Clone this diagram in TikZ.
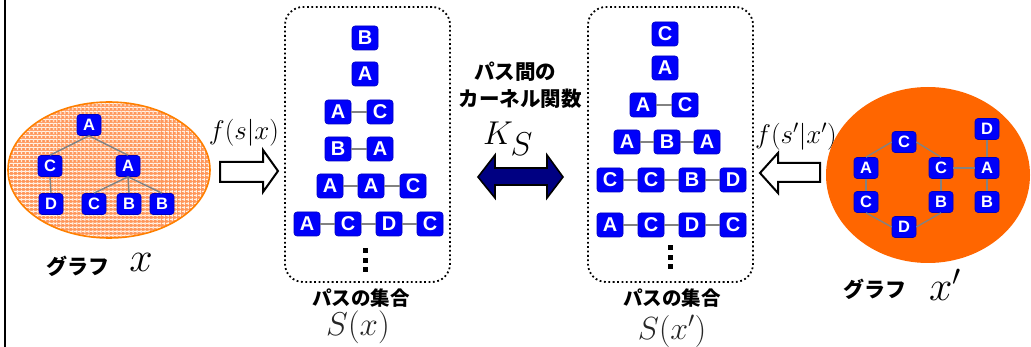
\RequirePackage{fix-cm}
\documentclass[tikz,border=0pt]{standalone}
\usepackage{fontspec}
\usetikzlibrary{patterns.meta}

\newfontfamily\jpfont{Noto Sans CJK JP}
\newfontfamily\boxfont{Liberation Sans}

\definecolor{pathblue}{RGB}{0,0,250}
\definecolor{edgegray}{RGB}{130,130,130}
\definecolor{graphorange}{RGB}{255,102,0}
\definecolor{paleorange}{RGB}{255,150,90}
\definecolor{kernelnavy}{RGB}{0,0,130}

\tikzset{
  pbox/.style={rectangle, rounded corners=3pt, fill=pathblue, draw=blue!75!black,
    line width=0.6pt, text=white, inner sep=0pt,
    minimum width=26pt, minimum height=24pt,
    font={\boxfont\bfseries\fontsize{20}{20}\selectfont}},
  gbox/.style={pbox, minimum width=24pt, minimum height=21pt,
    font={\boxfont\bfseries\fontsize{16.5}{16.5}\selectfont}},
  plink/.style={draw=edgegray, line width=2.5pt},
  glink/.style={draw=edgegray, line width=1.4pt},
  setbox/.style={draw, rounded corners=18pt, line width=1.8pt,
    dash pattern=on 1.8pt off 2.6pt},
  jplabel/.style={inner sep=0pt, font={\jpfont\bfseries\fontsize{#1}{#1}\selectfont}},
  mathsize/.style={inner sep=0pt, font={\fontsize{#1}{#1}\selectfont}},
  openarrow/.style={draw, fill=white, line width=2pt, line join=miter},
}

\begin{document}
\begin{tikzpicture}[x=1pt, y=-1pt]
\useasboundingbox (0,0) rectangle (1031,347);
\draw[line width=2pt] (5,0) -- (5,347);

% graph x: checked orange ellipse with a tree
\fill[paleorange] (109,170) ellipse [x radius=101pt, y radius=68pt];
\fill[pattern={Lines[angle=0, distance=4pt, line width=1.4pt]}, pattern color=white!90!orange]
  (109,170) ellipse [x radius=101pt, y radius=68pt];
\fill[pattern={Lines[angle=90, distance=4pt, line width=1.4pt]}, pattern color=white!90!orange]
  (109,170) ellipse [x radius=101pt, y radius=68pt];
\draw[orange, line width=1.6pt] (109,170) ellipse [x radius=101pt, y radius=68pt];

\node[gbox] (gA)  at (89,125)  {A};
\node[gbox] (gC)  at (50,166)  {C};
\node[gbox] (gA2) at (128,166) {A};
\node[gbox] (gD)  at (51,204)  {D};
\node[gbox] (gC2) at (94,204)  {C};
\node[gbox] (gB)  at (129,204) {B};
\node[gbox] (gB2) at (162,204) {B};
\draw[glink] (gA.south) -- (gC.north);
\draw[glink] (gA.south) -- (gA2.north);
\draw[glink] (gC.south) -- (gD.north);
\draw[glink] (gA2.south) -- (gC2.north);
\draw[glink] (gA2.south) -- (gB.north);
\draw[glink] (gA2.south) -- (gB2.north);

\node[jplabel=21] (gxtext) at (78,266) {グラフ};
\node[mathsize=42] (gxmath) at (141,262) {$x$};

% f(s|x)
\node[mathsize=27] (fx) at (244,133) {$f(s|x)$};
\draw[openarrow] (220,162) -- (263,162) -- (263,150) -- (278,171)
  -- (263,192) -- (263,182) -- (220,182) -- cycle;

% path set S(x)
\node[setbox, minimum width=165pt, minimum height=275pt] (setx) at (367.5,144.5) {};
\node[pbox] (l1)  at (365,38)  {B};
\node[pbox] (l2)  at (365,74)  {A};
\node[pbox] (l3a) at (338,112) {A};
\node[pbox] (l3b) at (380,112) {C};
\node[pbox] (l4a) at (338,149) {B};
\node[pbox] (l4b) at (380,149) {A};
\node[pbox] (l5a) at (330,186) {A};
\node[pbox] (l5b) at (371,186) {A};
\node[pbox] (l5c) at (413,186) {C};
\node[pbox] (l6a) at (307,224) {A};
\node[pbox] (l6b) at (348,224) {C};
\node[pbox] (l6c) at (389,224) {D};
\node[pbox] (l6d) at (430,224) {C};
\draw[plink] (l3a) -- (l3b);
\draw[plink] (l4a) -- (l4b);
\draw[plink] (l5a) -- (l5b) -- (l5c);
\draw[plink] (l6a) -- (l6b) -- (l6c) -- (l6d);
\foreach \y in {251,261,270}
  \fill (362.5,\y-2.5) rectangle ++(5,5);
\node[jplabel=19.5] (setxtext) at (361,298) {パスの集合};
\node[mathsize=33, text=black!85] (setxmath) at (358,327) {$S(x)$};

% kernel between paths
\node[jplabel=20.5] (kt1) at (515,72) {パス間の};
\node[jplabel=20.5] (kt2) at (520,99) {カーネル関数};
\node[mathsize=33] (ks) at (508,139) {$K_{\textstyle S}$};
\draw[line width=1.6pt, fill=kernelnavy, line join=miter]
  (478,177) -- (495,155) -- (495,168) -- (547,168) -- (547,155) -- (563,177)
  -- (547,198) -- (547,185) -- (495,185) -- (495,198) -- cycle;

% path set S(x')
\node[setbox, minimum width=165pt, minimum height=275pt] (setxp) at (670.5,144.5) {};
\node[pbox] (r1)  at (665,34)  {C};
\node[pbox] (r2)  at (665,68)  {A};
\node[pbox] (r3a) at (643,105) {A};
\node[pbox] (r3b) at (685,105) {C};
\node[pbox] (r4a) at (627,142) {A};
\node[pbox] (r4b) at (667,142) {B};
\node[pbox] (r4c) at (707,142) {A};
\node[pbox] (r5a) at (610,180) {C};
\node[pbox] (r5b) at (651,180) {C};
\node[pbox] (r5c) at (692,180) {B};
\node[pbox] (r5d) at (733,180) {D};
\node[pbox] (r6a) at (610,225) {A};
\node[pbox] (r6b) at (651,225) {C};
\node[pbox] (r6c) at (692,225) {D};
\node[pbox] (r6d) at (733,225) {C};
\draw[plink] (r3a) -- (r3b);
\draw[plink] (r4a) -- (r4b) -- (r4c);
\draw[plink] (r5a) -- (r5b) -- (r5c) -- (r5d);
\draw[plink] (r6a) -- (r6b) -- (r6c) -- (r6d);
\foreach \y in {248,258,267}
  \fill (667.5,\y-2.5) rectangle ++(5,5);
\node[jplabel=19.5] (setxptext) at (672,298) {パスの集合};
\node[mathsize=32, text=black!85] (setxpmath) at (672,331) {$S(x')$};

% f(s'|x'), partly under the ellipse
\node[mathsize=27, anchor=west] (fxp) at (755,137) {$f(s'|x')$};
\draw[openarrow] (820,163) -- (778,163) -- (778,153) -- (760,173)
  -- (778,193) -- (778,182) -- (820,182) -- cycle;

% graph x': solid orange ellipse with a ring
\fill[graphorange] (928,175) ellipse [x radius=102pt, y radius=88pt];
\node[gbox] (hC1) at (904,142) {C};
\node[gbox] (hA)  at (866,168) {A};
\node[gbox] (hC2) at (866,202) {C};
\node[gbox] (hD)  at (904,227) {D};
\node[gbox] (hC3) at (941,168) {C};
\node[gbox] (hB)  at (941,202) {B};
\node[gbox] (hD2) at (987,129) {D};
\node[gbox] (hA2) at (987,168) {A};
\node[gbox] (hB2) at (987,202) {B};
\draw[glink] (hA.north) -- (hC1.west);
\draw[glink] (hC1.east) -- (hC3.north);
\draw[glink] (hA.south) -- (hC2.north);
\draw[glink] (hC2.south) -- (hD.west);
\draw[glink] (hD.east) -- (hB.south);
\draw[glink] (hB.north) -- (hC3.south);
\draw[glink] (hC3.east) -- (hA2.west);
\draw[glink] (hD2.south) -- (hA2.north);
\draw[glink] (hA2.south) -- (hB2.north);

\node[jplabel=21] (gxptext) at (875,289) {グラフ};
\node[mathsize=42] (gxpmath) at (945,285) {$x'$};
\end{tikzpicture}
\end{document}
